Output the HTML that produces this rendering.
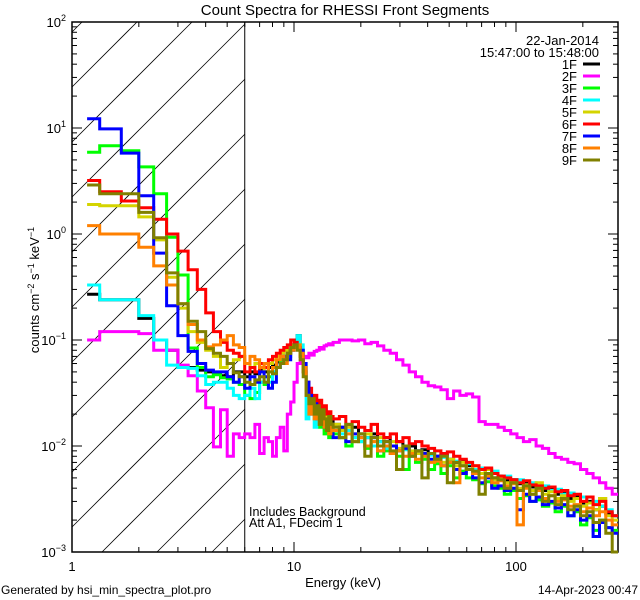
<!DOCTYPE html>
<html><head><meta charset="utf-8"><style>
html,body{margin:0;padding:0;background:#fff;width:640px;height:600px;overflow:hidden;}
svg{display:block;font-family:"Liberation Sans",sans-serif;overflow:hidden;}
</style></head><body>
<svg id="chart" width="640" height="600" viewBox="0 0 640 600" xmlns="http://www.w3.org/2000/svg">
<rect width="640" height="600" fill="#fff"/>
<text x="345" y="15" font-size="15" text-anchor="middle">Count Spectra for RHESSI Front Segments</text>
<g id="hatch"></g>
<g id="axes"></g>
<g id="series"></g>
<g id="legend">
<text x="599" y="45" font-size="13" text-anchor="end">22-Jan-2014</text>
<text x="599" y="57" font-size="13" text-anchor="end">15:47:00 to 15:48:00</text>
</g>
<text x="249" y="516" font-size="12.5">Includes Background</text>
<text x="249" y="527" font-size="12.5">Att A1, FDecim  1</text>
<text x="343" y="587" font-size="13" text-anchor="middle">Energy (keV)</text>
<text transform="translate(39,290) rotate(-90)" font-size="13" text-anchor="middle">counts cm<tspan font-size="9" dy="-5">−2</tspan><tspan dy="5"> s</tspan><tspan font-size="9" dy="-5">−1</tspan><tspan dy="5"> keV</tspan><tspan font-size="9" dy="-5">−1</tspan></text>
<text x="1" y="594" font-size="12">Generated by hsi_min_spectra_plot.pro</text>
<text x="638" y="594" font-size="12" text-anchor="end">14-Apr-2023 00:47</text>
</svg>
<script>
const xTickMajors = [1, 10, 100];
const xTickLabels = ["1", "10", "100"];
const yTickExps = [-3, -2, -1, 0, 1, 2];
const seriesNames = ["1F","2F","3F","4F","5F","6F","7F","8F","9F"];
const seriesColors = ["#000000","#ff00ff","#00ff00","#00ffff","#d4d400","#ff0000","#0000ff","#ff8000","#808000"];
const s1F = [0.27,0.24,0.24,0.16,0.1,0.08,0.057,0.055,0.052,0.05,0.048,0.046,0.045,0.05,0.05,
0.045,0.05,0.048,0.052,0.05,0.055,0.058,0.062,0.065,0.07,0.08,0.09,0.1,0.11,0.08,0.055,0.04,0.03,0.026,0.024,0.022,0.02,0.021,0.018,0.019,0.016,0.017,
0.016,0.015,0.014,0.015,0.013,0.012,0.013,0.011,0.012,0.01,0.011,0.0095,0.01,0.009,0.0092,0.0085,0.008,0.0082,0.0075,0.007,0.0072,0.0065,0.006,0.0062,0.0055,0.005,0.0052,0.0047,0.0048,0.0044,0.0045,0.0041,0.0042,0.0038,0.0039,0.0035,0.0036,0.0032,0.0033,0.0029,0.003,0.0025,0.0027,0.0023,0.0022];
const s2F = [0.1,0.12,0.12,0.115,0.08,0.08,0.058,0.046,0.033,0.023,0.0098,0.022,0.008,0.013,0.012,
0.013,0.012,0.016,0.0085,0.012,0.011,0.008,0.012,0.015,0.009,0.02,0.026,0.04,0.06,0.065,0.07,0.068,0.075,0.072,0.078,0.08,0.085,0.082,0.088,0.09,0.092,0.09,
0.095,0.1,0.1,0.098,0.1,0.092,0.095,0.088,0.08,0.075,0.065,0.058,0.05,0.045,0.04,0.037,0.036,0.034,0.028,0.033,0.03,0.031,0.029,0.017,0.016,0.016,0.015,0.014,0.013,0.012,0.011,0.0115,0.01,0.0095,0.0085,0.0078,0.0075,0.007,0.0068,0.006,0.0055,0.005,0.0045,0.004,0.0035];
const s3F = [5.9,6.8,6.1,4.3,2.4,0.93,0.41,0.084,0.055,0.045,0.047,0.044,0.043,0.04,0.038,
0.03,0.028,0.032,0.04,0.038,0.045,0.05,0.055,0.065,0.07,0.075,0.085,0.09,0.095,0.07,0.05,0.035,0.025,0.022,0.018,0.02,0.015,0.017,0.013,0.015,0.012,0.014,
0.013,0.012,0.01,0.012,0.011,0.0095,0.01,0.008,0.009,0.0085,0.008,0.006,0.0085,0.007,0.0075,0.006,0.0068,0.0055,0.0065,0.005,0.0058,0.005,0.0048,0.0044,0.0046,0.0042,0.004,0.0035,0.0038,0.0032,0.0034,0.003,0.0031,0.0027,0.0029,0.0024,0.0027,0.0022,0.0024,0.0018,0.0021,0.0016,0.002,0.0017,0.0016];
const s4F = [0.33,0.24,0.24,0.17,0.1,0.058,0.055,0.054,0.046,0.038,0.04,0.04,0.035,0.03,0.028,
0.03,0.035,0.028,0.04,0.045,0.04,0.05,0.055,0.06,0.065,0.07,0.08,0.09,0.11,0.09,0.06,0.018,0.03,0.025,0.015,0.022,0.018,0.02,0.016,0.018,0.015,0.016,
0.014,0.013,0.014,0.012,0.011,0.012,0.01,0.011,0.0095,0.01,0.009,0.0092,0.0085,0.009,0.008,0.0082,0.0075,0.0078,0.007,0.0072,0.0065,0.0068,0.006,0.0062,0.0055,0.0058,0.005,0.0052,0.0047,0.0048,0.0043,0.0045,0.004,0.0042,0.0038,0.0039,0.0035,0.0036,0.0032,0.0033,0.0029,0.003,0.0027,0.0025,0.0022];
const s5F = [1.9,1.85,1.85,1.45,0.88,0.39,0.2,0.12,0.095,0.08,0.07,0.055,0.06,0.065,0.07,
0.06,0.055,0.06,0.05,0.055,0.06,0.065,0.07,0.075,0.08,0.085,0.09,0.095,0.09,0.07,0.05,0.035,0.028,0.025,0.022,0.02,0.021,0.018,0.02,0.017,0.018,0.016,
0.016,0.014,0.015,0.013,0.012,0.013,0.011,0.012,0.01,0.011,0.0095,0.01,0.009,0.0085,0.008,0.0085,0.0075,0.007,0.0075,0.0065,0.007,0.006,0.0065,0.0055,0.006,0.0048,0.005,0.0045,0.0047,0.004,0.0043,0.0038,0.0045,0.0035,0.0037,0.0032,0.0034,0.003,0.0032,0.0027,0.0029,0.0025,0.0032,0.0022,0.002];
const s6F = [3.2,2.5,2.05,1.77,1.38,1.0,0.69,0.46,0.3,0.18,0.12,0.095,0.08,0.075,0.07,
0.05,0.055,0.05,0.06,0.055,0.065,0.07,0.075,0.08,0.085,0.09,0.1,0.095,0.085,0.07,0.05,0.04,0.035,0.028,0.03,0.025,0.027,0.022,0.024,0.02,0.021,0.019,
0.018,0.019,0.016,0.017,0.015,0.014,0.016,0.013,0.012,0.013,0.011,0.012,0.0105,0.011,0.01,0.0095,0.009,0.0085,0.0088,0.008,0.0075,0.007,0.0065,0.006,0.0062,0.0055,0.0052,0.005,0.0048,0.0045,0.0047,0.0043,0.0042,0.004,0.0041,0.0037,0.0038,0.0034,0.0035,0.003,0.0033,0.0028,0.003,0.0024,0.0022];
const s7F = [12.2,9.8,5.8,2.3,0.66,0.21,0.11,0.078,0.06,0.052,0.05,0.05,0.045,0.04,0.045,
0.035,0.045,0.04,0.05,0.045,0.035,0.04,0.055,0.06,0.07,0.065,0.08,0.09,0.085,0.08,0.06,0.04,0.03,0.02,0.025,0.018,0.02,0.016,0.015,0.017,0.014,0.013,
0.012,0.015,0.011,0.013,0.012,0.01,0.012,0.009,0.011,0.01,0.009,0.0095,0.008,0.009,0.0085,0.0075,0.008,0.0065,0.007,0.006,0.0055,0.006,0.005,0.0045,0.005,0.004,0.0042,0.0038,0.004,0.0025,0.0035,0.003,0.0033,0.0028,0.003,0.0026,0.0028,0.0022,0.0025,0.002,0.0022,0.0014,0.0019,0.0017,0.0015];
const s8F = [1.2,1.0,1.0,0.75,0.5,0.33,0.22,0.14,0.1,0.086,0.09,0.1,0.11,0.09,0.085,
0.06,0.07,0.065,0.055,0.06,0.05,0.055,0.065,0.07,0.06,0.075,0.08,0.085,0.09,0.075,0.055,0.03,0.02,0.025,0.018,0.022,0.016,0.02,0.015,0.018,0.013,0.016,
0.014,0.012,0.013,0.011,0.012,0.01,0.011,0.009,0.01,0.0085,0.009,0.008,0.0085,0.0075,0.008,0.007,0.0072,0.0065,0.007,0.0045,0.0065,0.006,0.0055,0.005,0.0052,0.0045,0.0047,0.0042,0.0044,0.0018,0.004,0.0035,0.0038,0.0032,0.0034,0.003,0.0031,0.0027,0.0028,0.0024,0.0026,0.0022,0.0024,0.002,0.0018];
const s9F = [2.9,2.4,2.4,1.6,0.92,0.43,0.22,0.15,0.12,0.083,0.075,0.07,0.06,0.049,0.045,
0.04,0.038,0.042,0.045,0.04,0.05,0.048,0.055,0.06,0.065,0.075,0.085,0.09,0.08,0.065,0.045,0.03,0.025,0.028,0.02,0.024,0.016,0.022,0.018,0.014,0.019,0.016,
0.015,0.012,0.016,0.011,0.013,0.008,0.012,0.01,0.011,0.009,0.006,0.01,0.008,0.009,0.005,0.0085,0.0075,0.008,0.0045,0.007,0.0065,0.006,0.0058,0.0035,0.0055,0.005,0.0048,0.004,0.0045,0.0038,0.0042,0.0035,0.004,0.003,0.0034,0.0028,0.0032,0.0025,0.0027,0.0022,0.0024,0.0019,0.002,0.0015,0.001];
const seriesValues = [s1F,s2F,s3F,s4F,s5F,s6F,s7F,s8F,s9F];

const NS = "http://www.w3.org/2000/svg";
const X0 = 72, X1 = 618, Y0 = 22, Y1 = 552;
const DEC_X = 222, XMAX = Math.pow(10, (X1 - X0) / DEC_X);
function xs(e){ return X0 + DEC_X * Math.log10(e); }
function ys(v){ v = Math.max(v, 1e-3); return Y1 - (Y1 - Y0) / 5 * (Math.log10(v) + 3); }
function mk(tag, attrs, parent){ const el = document.createElementNS(NS, tag); for (const k in attrs) el.setAttribute(k, attrs[k]); parent.appendChild(el); return el; }

const edges = [1.17];
for (let k = 1; k <= 42; k++) edges.push(1 + k / 3);
for (let k = 1; k <= 45; k++) edges.push(15 * Math.pow(1.068, k));

const hatch = document.getElementById('hatch');
const xv = xs(6);
for (let c = 159 - 110; c < 900; c += 55) {
  const xa = Math.max(X0, c - Y1), xb = Math.min(xv, c - Y0);
  if (xb <= xa) continue;
  const l = mk('line', {x1: xa, y1: c - xa, x2: xb, y2: c - xb, stroke: '#000', 'stroke-width': 0.8}, hatch);
  
  
}
const vl = mk('line', {x1: xv, y1: Y0, x2: xv, y2: Y1, stroke: '#000', 'stroke-width': 1}, hatch);



const sg = document.getElementById('series');
seriesValues.forEach((vals, i) => {
  let d = 'M' + xs(edges[0]).toFixed(1) + ' ' + ys(vals[0]).toFixed(1);
  for (let b = 0; b < vals.length; b++) {
    if (b > 0) d += 'V' + ys(vals[b]).toFixed(1);
    d += 'H' + Math.min(xs(edges[b + 1]), X1).toFixed(1);
  }
  const p = mk('path', {d: d, fill: 'none', stroke: seriesColors[i], 'stroke-width': 3}, sg);
  
  
});

const ax = document.getElementById('axes');
const frame = mk('rect', {x: X0, y: Y0, width: X1 - X0, height: Y1 - Y0, fill: 'none', stroke: '#000', 'stroke-width': 1.5}, ax);


for (let dec = 1; dec <= 100; dec *= 10) {
  for (let m = 1; m <= 9; m++) {
    const e = dec * m; if (e > XMAX) break;
    const x = xs(e), len = m === 1 ? 10 : 5;
    mk('line', {x1: x, y1: Y1, x2: x, y2: Y1 - len, stroke: '#000'}, ax);
    mk('line', {x1: x, y1: Y0, x2: x, y2: Y0 + len, stroke: '#000'}, ax);
  }
}
xTickMajors.forEach((e, i) => {
  const t = mk('text', {x: xs(e), y: Y1 + 19, 'font-size': 13, 'text-anchor': 'middle'}, ax);
  t.textContent = xTickLabels[i];
  
  
});
yTickExps.forEach(ex => {
  const y = ys(Math.pow(10, ex));
  mk('line', {x1: X0, y1: y, x2: X0 + 10, y2: y, stroke: '#000'}, ax);
  mk('line', {x1: X1, y1: y, x2: X1 - 10, y2: y, stroke: '#000'}, ax);
  if (ex < 2) for (let m = 2; m <= 9; m++) {
    const yy = ys(m * Math.pow(10, ex));
    mk('line', {x1: X0, y1: yy, x2: X0 + 5, y2: yy, stroke: '#000'}, ax);
    mk('line', {x1: X1, y1: yy, x2: X1 - 5, y2: yy, stroke: '#000'}, ax);
  }
  const t = mk('text', {x: 66, y: y + 5, 'font-size': 13, 'text-anchor': 'end'}, ax);
  t.innerHTML = '10<tspan font-size="9" dy="-6">' + (ex < 0 ? '−' + (-ex) : ex) + '</tspan>';
  
  
});

const lg = document.getElementById('legend');
seriesNames.forEach((n, i) => {
  const y = 64 + i * 12;
  const t = mk('text', {x: 577, y: y + 5, 'font-size': 13, 'text-anchor': 'end'}, lg);
  t.textContent = n;
  
  
  const l = mk('line', {x1: 583, y1: y, x2: 600, y2: y, stroke: seriesColors[i], 'stroke-width': 3}, lg);
  
  
});
</script>
</body></html>
